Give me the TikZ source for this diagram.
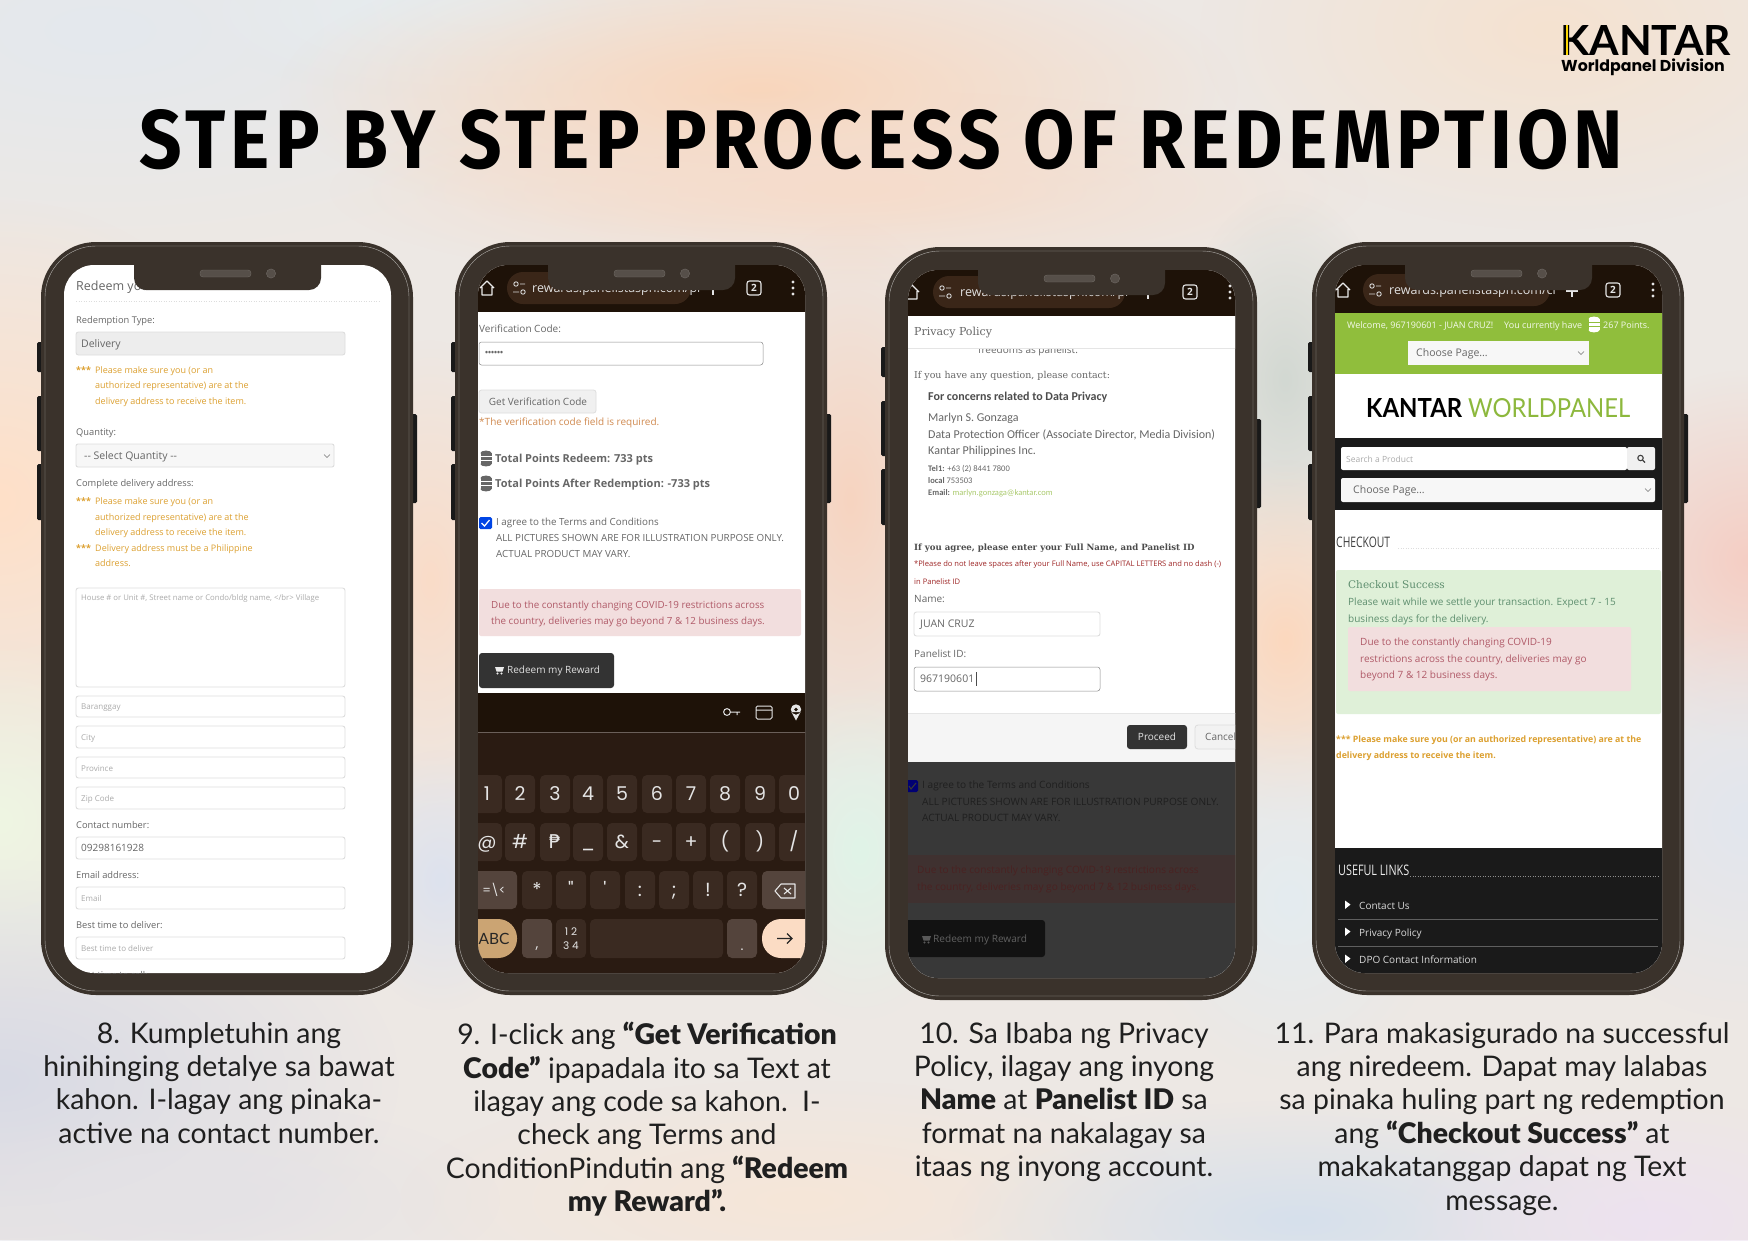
\documentclass[tikz,border=0pt]{standalone}
\usepackage{fontspec}
\usepackage{graphicx}
\usetikzlibrary{fadings}
\setmainfont{Open Sans}
\newfontfamily\slab{DejaVu Serif}
\newfontfamily\carl{Carlito}
\newfontfamily\capf{Lato}[BoldFont={Lato Black}]
\newfontfamily\lgo{Lato}
\newfontfamily\pop{Poppins}
\newfontfamily\ttl{Fira Sans}[LetterSpace=7]
\newfontfamily\djv{DejaVu Sans}
\definecolor{body}{HTML}{3A322B}
\definecolor{bar}{HTML}{1E1208}
\definecolor{pill}{HTML}{3A2618}
\definecolor{kbd}{HTML}{2A1B12}
\definecolor{keyc}{HTML}{3A2A21}
\definecolor{keyd}{HTML}{54443C}
\definecolor{lab}{HTML}{666666}
\definecolor{ora}{HTML}{DCA030}
\definecolor{pink}{HTML}{F2DEDE}
\definecolor{pinkt}{HTML}{B05A68}
\definecolor{edge}{HTML}{DDDDDD}
\definecolor{ph}{HTML}{AAAAAA}
\definecolor{uigreen}{HTML}{90BE3C}
\definecolor{kw}{HTML}{8DB83D}
\definecolor{okbg}{HTML}{DFF0D8}
\definecolor{okt}{HTML}{5F8F6F}
\definecolor{foot}{HTML}{1A1A1A}
\definecolor{basebg}{HTML}{EDE8E4}
\definecolor{reqt}{HTML}{D08A50}
\definecolor{abc}{HTML}{CBA473}
\definecolor{enter}{HTML}{FBDCC4}
\definecolor{darkpink}{HTML}{3F3130}
\definecolor{darkpinkt}{HTML}{4A2222}
\tikzfading[name=blobf, inner color=transparent!0, outer color=transparent!100]
\tikzset{
  field/.style={draw=edge,line width=0.9pt,fill=white,rounded corners=2.5pt},
  capt/.style={anchor=north,inner sep=0pt,align=center,text=black!88,font=\capf\fontsize{28.4}{33.4}\selectfont},
  dotl/.style={line width=0.5pt,dotted},
}
\newcommand\T[6][]{\node[anchor=base west,inner sep=0pt,text=#5,font=#1\fontsize{#4}{#4}\selectfont,yshift={-0.36*#4pt}] at ({#2},{#3}) {#6};}
\newcommand\TC[6][]{\node[anchor=base,inner sep=0pt,text=#5,font=#1\fontsize{#4}{#4}\selectfont,yshift={-0.36*#4pt}] at ({#2},{#3}) {#6};}
\newcommand\blob[5]{\definecolor{tmpb}{HTML}{#5}\fill[tmpb,path fading=blobf] (#1,#2) ellipse [x radius=#3pt,y radius=#4pt];}
\newcommand\phoneback[2]{\begin{scope}[shift={(#1,#2)}]
  \fill[black!90,rounded corners=1.5pt] (37,342) rectangle (44,372);
  \fill[black!90,rounded corners=1.5pt] (37,396) rectangle (44,451);
  \fill[black!90,rounded corners=1.5pt] (37,464) rectangle (44,520);
  \fill[black!90,rounded corners=1.5pt] (410,414) rectangle (417,503);
  \fill[body,rounded corners=55pt] (41,242) rectangle (413,995);
  \draw[white!60!body,line width=0.4pt,rounded corners=51pt] (45,246) rectangle (409,991);
  \fill[white,rounded corners=30pt] (64,265) rectangle (391,973);
\end{scope}}
\newcommand\phonefront[2]{\begin{scope}[shift={(#1,#2)}]
  \fill[body] (134,262) -- (134,278) arc[start angle=180,end angle=90,radius=12] -- (309,290) arc[start angle=90,end angle=0,radius=12] -- (321,262) -- cycle;
  \fill[white!14!body,draw=white!28!body,line width=0.4pt,rounded corners=3pt] (200,270) rectangle (251,277);
  \fill[white!14!body,draw=white!28!body,line width=0.4pt] (271,273.5) circle (4.6);
\end{scope}}
\newcommand\screenclip[2]{\clip[shift={(#1,#2)},rounded corners=30pt] (64,265) rectangle (391,973);}
% browser bar: home, pillL, pillR, urlx, plus, tab, dots, yc, url
\newcommand\browserbar[9]{
  \fill[bar] ({#1-40},{#8-30}) rectangle ({#7+40},{#8+24});
  \fill[pill,rounded corners=16pt] (#2,{#8-16}) rectangle (#3,{#8+16});
  \draw[white!92!black,line width=1.3pt,line join=round] ({#1-7},#8) -- (#1,{#8-7}) -- ({#1+7},#8) ({#1-5},{#8-1}) -- ({#1-5},{#8+7}) -- ({#1+5},{#8+7}) -- ({#1+5},{#8-1});
  \draw[white!85!black,line width=0.9pt] ({#2+9},{#8-4}) circle (2.2) ({#2+13},{#8-4}) -- ({#2+18},{#8-4}) ({#2+6},{#8+4}) -- ({#2+12},{#8+4}) ({#2+16},{#8+4}) circle (2.2);
  \T{#4}{#8}{12.5}{white!88!black}{#9}
  \draw[white!90!black,line width=1.1pt] (#5,{#8-5}) -- (#5,{#8+7}) ({#5-6},{#8+1}) -- ({#5+6},{#8+1});
  \draw[white!90!black,line width=1.1pt,rounded corners=2.5pt] ({#6-7},{#8-7}) rectangle ({#6+7},{#8+7});
  \TC[\bfseries]{#6}{#8}{10}{white!90!black}{2}
  \fill[white!90!black] (#7,{#8-6}) circle (1.6) (#7,#8) circle (1.6) (#7,{#8+6}) circle (1.6);
}
\newcommand\coin[4]{\fill[#3] ({#1-5.5},{#2-6}) rectangle ({#1+5.5},{#2+5});
  \fill[#3] (#1,{#2-6}) ellipse[x radius=5.5pt,y radius=2.4pt] (#1,{#2+5}) ellipse[x radius=5.5pt,y radius=2.4pt];
  \draw[#4,line width=0.5pt] ({#1-5.5},{#2-3}) -- ({#1+5.5},{#2-3}) ({#1-5.5},{#2+1}) -- ({#1+5.5},{#2+1});}
\newcommand\chev[2]{\draw[black!55,line width=0.6pt] ({#1-3},{#2-1.5}) -- (#1,{#2+1.5}) -- ({#1+3},{#2-1.5});}
\newcommand\cart[3]{\fill[#3] ({#1-4},{#2-3}) -- ({#1+5},{#2-3}) -- ({#1+3.5},{#2+1.5}) -- ({#1-2.5},{#2+1.5}) -- cycle ({#1-1.5},{#2+3.5}) circle (1.1) ({#1+2.5},{#2+3.5}) circle (1.1);}
\newcommand\Kk[5]{\fill[#4,rounded corners=5pt] ({#1-15},#2) rectangle ({#1+15},#3);
  \TC[\pop]{#1}{(#2+#3)/2}{19}{white!90!black}{#5}}
\newcommand\warnA[2]{% 3-line warning at x,y
  \T{#1}{#2}{9}{ora}{\bfseries ***}
  \T{#1+19}{#2}{9}{ora}{Please make sure you (or an}
  \T{#1+19}{#2+15.5}{9}{ora}{authorized representative) are at the}
  \T{#1+19}{#2+31}{9}{ora}{delivery address to receive the item.}}
\begin{document}
\begin{tikzpicture}[x=1pt,y=-1pt]
\useasboundingbox (0,0) rectangle (1748,1240);
% ---- background
\begin{scope}
\clip (0,0) rectangle (1748,1240);
\fill[basebg] (0,0) rectangle (1748,1240);
\blob{100}{30}{500}{220}{E4E8EE}
\blob{480}{10}{300}{90}{E6EEF2}
\blob{1000}{20}{300}{100}{EEE8E6}
\blob{760}{90}{480}{150}{F9D6BC}
\blob{850}{190}{520}{100}{F6DCCB}
\blob{1550}{30}{350}{200}{F5E2D0}
\blob{0}{500}{280}{300}{FFE0C8}
\blob{0}{820}{170}{180}{EFF6E2}
\blob{0}{1080}{400}{220}{D8DAE4}
\blob{430}{580}{120}{240}{FADCC8}
\blob{440}{880}{90}{130}{DDE2EE}
\blob{850}{500}{130}{280}{F7D4C0}
\blob{860}{850}{110}{170}{E0F4E8}
\blob{1285}{380}{110}{190}{D2D8D2}
\blob{1285}{640}{130}{180}{FCD8BE}
\blob{1290}{900}{150}{180}{E4ECF0}
\blob{1748}{560}{190}{190}{F5CEC4}
\blob{1748}{820}{200}{200}{E2E6EE}
\blob{800}{1200}{400}{120}{F6E6D8}
\blob{1300}{1220}{350}{120}{D6E0EC}
\blob{1650}{1220}{250}{120}{EDE2F0}
\blob{200}{1200}{300}{100}{E4E2E6}
\end{scope}
% ---- logo and title
\node[anchor=north west,inner sep=0pt] (logo) at (1560,25) {\resizebox{171pt}{30pt}{\lgo\bfseries KANTAR}};
\fill[yellow!75!orange] (1566.2,25) rectangle (1567.6,55);
\TC[\pop\bfseries]{1643}{66}{15.8}{black}{Worldpanel Division}
\node[anchor=north west,inner sep=0pt] (title) at (139,109) {\resizebox{1484pt}{59pt}{\ttl\bfseries STEP BY STEP PROCESS OF REDEMPTION}};
% ==== phone 1
\phoneback{0}{0}
\begin{scope}
\screenclip{0}{0}
\T{76}{286}{12.5}{lab}{Redeem your}
\draw[dotl,edge] (76,301) -- (380,301);
\T{76}{320}{9.3}{lab}{Redemption Type:}
\filldraw[draw=edge,line width=0.9pt,fill=black!7,rounded corners=2.5pt] (76,332) rectangle (345,355);
\T{81}{343.5}{10.5}{lab}{Delivery}
\warnA{76}{370}
\T{76}{432}{9.3}{lab}{Quantity:}
\filldraw[draw=edge,line width=0.9pt,fill=black!3,rounded corners=2pt] (76,444) rectangle (334,467);
\T{84}{456}{10.5}{lab}{{-}{-} Select Quantity {-}{-}}
\chev{327}{456}
\T{76}{483}{9.3}{lab}{Complete delivery address:}
\warnA{76}{501.5}
\T{76}{548}{9}{ora}{\bfseries ***}
\T{95}{548}{9}{ora}{Delivery address must be a Philippine}
\T{95}{563.5}{9}{ora}{address.}
\draw[field] (76,588) rectangle (345,687);
\T{81}{598}{7.75}{ph}{House \# or Unit \#, Street name or Condo/bldg name, </br> Village}
\draw[field] (76,696) rectangle (345,717); \T{81}{707}{8}{ph}{Baranggay}
\draw[field] (76,726) rectangle (345,748); \T{81}{738}{8}{ph}{City}
\draw[field] (76,757) rectangle (345,778); \T{81}{768.5}{8}{ph}{Province}
\draw[field] (76,787) rectangle (345,809); \T{81}{799}{8}{ph}{Zip Code}
\T{76}{825}{9.3}{lab}{Contact number:}
\draw[field] (76,837) rectangle (345,859); \T{81}{848}{10}{lab}{09298161928}
\T{76}{875}{9.3}{lab}{Email address:}
\draw[field] (76,887) rectangle (345,909); \T{81}{899}{8}{ph}{Email}
\T{76}{925}{9.3}{lab}{Best time to deliver:}
\draw[field] (76,937) rectangle (345,959); \T{81}{949}{8}{ph}{Best time to deliver}
\T{76}{975}{9.3}{lab}{Best time to call:}
\end{scope}
\phonefront{0}{0}
% ==== phone 2
\phoneback{414}{0}
\begin{scope}
\screenclip{414}{0}
\browserbar{487}{507}{691}{532}{713}{754}{793}{288}{rewards.panelistaspn.com/pr}
\T{479}{329}{10}{lab}{Verification Code:}
\draw[black!45,line width=0.5pt,fill=white,rounded corners=2.5pt] (479,342) rectangle (763,365);
\T[\bfseries]{485}{353}{8}{lab}{••••••}
\filldraw[draw=edge,line width=0.8pt,fill=black!6,rounded corners=2.5pt] (479,390) rectangle (596,413);
\TC{538}{402}{10}{lab}{Get Verification Code}
\T{479}{422}{10}{reqt}{*The verification code field is required.}
\coin{486}{459}{black!60}{white}
\T[\bfseries]{495}{459}{11}{lab}{Total Points Redeem: 733 pts}
\coin{486}{484}{black!60}{white}
\T[\bfseries]{495}{484}{11}{lab}{Total Points After Redemption: -733 pts}
\fill[blue!70!cyan!90!black,rounded corners=1.5pt] (479,517) rectangle (492,529);
\draw[white,line width=1.2pt] (481.5,523) -- (484.5,526) -- (489.5,520);
\T{496}{522}{9.8}{lab}{I agree to the Terms and Conditions}
\T{496}{538}{9.8}{lab}{ALL PICTURES SHOWN ARE FOR ILLUSTRATION PURPOSE ONLY.}
\T{496}{554}{9.8}{lab}{ACTUAL PRODUCT MAY VARY.}
\fill[pink,rounded corners=2pt] (479,589) rectangle (801,636);
\T{491}{604.5}{9.8}{pinkt}{Due to the constantly changing COVID-19 restrictions across}
\T{491}{621}{9.8}{pinkt}{the country, deliveries may go beyond 7 \& 12 business days.}
\fill[black!80,rounded corners=3pt] (479,653) rectangle (614,688);
\cart{499}{670}{white!92!black}
\T{507}{670}{10}{white!88!black}{Redeem my Reward}
\fill[kbd] (470,693) rectangle (815,980);
\fill[bar] (470,693) rectangle (815,732);
\draw[white!30!kbd,line width=0.6pt] (470,732) -- (815,732);
% toolbar icons
\draw[white!90!black,line width=1pt] (727,712) circle (3.4) (730.4,712) -- (740,712) (737,712) -- (737,715);
\draw[white!90!black,line width=1pt,rounded corners=1.5pt] (756,706) rectangle (772,719) (756,710) -- (772,710);
\fill[white!90!black] (796,709.5) circle (5.2) (791.4,712) -- (796,720.5) -- (800.6,712) -- cycle;
\fill[bar] (796,709.5) circle (1.8);
% keyboard
\Kk{487}{775}{813}{keyc}{1}\Kk{520}{775}{813}{keyc}{2}\Kk{555}{775}{813}{keyc}{3}\Kk{588}{775}{813}{keyc}{4}\Kk{622}{775}{813}{keyc}{5}
\Kk{657}{775}{813}{keyc}{6}\Kk{691}{775}{813}{keyc}{7}\Kk{725}{775}{813}{keyc}{8}\Kk{760}{775}{813}{keyc}{9}\Kk{794}{775}{813}{keyc}{0}
\Kk{487}{823}{861}{keyc}{@}\Kk{520}{823}{861}{keyc}{\#}\Kk{555}{823}{861}{keyc}{\djv ₱}\Kk{588}{823}{861}{keyc}{\_}\Kk{622}{823}{861}{keyc}{\&}
\Kk{657}{823}{861}{keyc}{-}\Kk{691}{823}{861}{keyc}{+}\Kk{725}{823}{861}{keyc}{(}\Kk{760}{823}{861}{keyc}{)}\Kk{794}{823}{861}{keyc}{/}
\fill[keyd,rounded corners=5pt] (470,871) rectangle (517,909);
\TC[\pop]{494}{890}{12}{white!90!black}{=\textbackslash <}
\Kk{537}{871}{909}{keyc}{*}\Kk{571}{871}{909}{keyc}{"}\Kk{605}{871}{909}{keyc}{'}\Kk{640}{871}{909}{keyc}{:}\Kk{674}{871}{909}{keyc}{;}\Kk{708}{871}{909}{keyc}{!}\Kk{742}{871}{909}{keyc}{?}
\fill[keyd,rounded corners=5pt] (762,871) rectangle (815,909);
\draw[white!90!black,line width=1.1pt,line join=round] (775,891) -- (781,884) -- (795,884) -- (795,898) -- (781,898) -- cycle (784,888) -- (791,894) (791,888) -- (784,894);
\fill[abc,rounded corners=19pt] (460,919) rectangle (517,958);
\TC[\lgo]{494}{938.5}{15.5}{black!85}{ABC}
\fill[keyd,rounded corners=5pt] (522,919) rectangle (552,958);
\TC[\pop]{537}{943}{14}{white!90!black}{,}
\fill[keyc,rounded corners=5pt] (556,919) rectangle (586,958);
\node[inner sep=0pt,align=center,text=white!90!black,font=\pop\fontsize{10.5}{14}\selectfont] (nums) at (571,938.5) {1 2\\3 4};
\fill[keyc,rounded corners=5pt] (590,919) rectangle (723,958);
\fill[keyd,rounded corners=5pt] (727,919) rectangle (757,958);
\TC[\pop]{742}{945}{14}{white!90!black}{.}
\fill[enter,rounded corners=19pt] (762,919) rectangle (830,958);
\draw[black!85,line width=1.1pt] (777,938.5) -- (792,938.5) (787,933.5) -- (792,938.5) -- (787,943.5);
\end{scope}
\phonefront{414}{0}
% ==== phone 3
\phoneback{844}{5}
\begin{scope}
\screenclip{844}{5}
\browserbar{912}{933}{1125}{960}{1148}{1190}{1230}{292}{rewards.panelistaspn.com/pr}
\T{978}{350}{10}{lab}{freedoms as panelist.}
\fill[white] (900,316) rectangle (1245,348);
\draw[black!10,line width=0.5pt] (900,348) -- (1245,348);
\T[\slab]{914}{332}{11}{lab}{Privacy Policy}
\T[\slab]{914}{375}{9.45}{lab}{If you have any question, please contact:}
\T[\carl\bfseries]{928}{396}{12}{black!70}{For concerns related to Data Privacy}
\T[\carl]{928}{417}{12}{lab}{Marlyn S. Gonzaga}
\T[\carl]{928}{434}{12}{lab}{Data Protection Officer (Associate Director, Media Division)}
\T[\carl]{928}{450}{12}{lab}{Kantar Philippines Inc.}
\T[\carl]{928}{468}{8.5}{lab}{\textbf{Tel1:} +63 (2) 8441 7800}
\T[\carl]{928}{480}{8.5}{lab}{\textbf{local} 753503}
\T[\carl]{928}{492}{8.5}{lab}{\textbf{Email:} \textcolor{kw!75!white}{marlyn.gonzaga@kantar.com}}
\T[\slab\bfseries]{914}{547}{8.6}{black!70}{If you agree, please enter your Full Name, and Panelist ID}
\T{914}{564}{7.6}{red!55!black!85!white}{*Please do not leave spaces after your Full Name, use CAPITAL LETTERS and no dash (-)}
\T{914}{582}{7.6}{red!55!black!85!white}{in Panelist ID}
\T{914}{599}{10}{lab}{Name:}
\draw[field] (914,612) rectangle (1100,636);
\T{920}{624}{10.5}{lab}{JUAN CRUZ}
\T{914}{654}{10}{lab}{Panelist ID:}
\draw[black!45,line width=0.5pt,fill=white,rounded corners=2.5pt] (914,667) rectangle (1100,691);
\T{920}{679}{10.5}{lab}{967190601}
\draw[black!70,line width=0.7pt] (976.5,672) -- (976.5,686);
\fill[black!4] (900,713) rectangle (1245,762);
\draw[black!10,line width=0.5pt] (900,713) -- (1245,713);
\fill[black!80,rounded corners=3pt] (1127,725) rectangle (1187,749);
\TC{1157}{737}{10}{white!90!black}{Proceed}
\filldraw[draw=edge,line width=0.8pt,fill=black!5,rounded corners=3pt] (1195,725) rectangle (1260,749);
\T{1205}{737}{10}{lab}{Cancel}
\fill[black!78] (900,762) rectangle (1245,985);
\fill[blue!45!black,rounded corners=1.5pt] (905,780) rectangle (918,792);
\draw[black!78,line width=1.1pt] (909,786) -- (911,789) -- (916,783);
\T{922}{785}{10.1}{black!88}{I agree to the Terms and Conditions}
\T{922}{802}{10.1}{black!88}{ALL PICTURES SHOWN ARE FOR ILLUSTRATION PURPOSE ONLY.}
\T{922}{818}{10.1}{black!88}{ACTUAL PRODUCT MAY VARY.}
\fill[darkpink] (900,855) rectangle (1245,903);
\T{917}{870}{10.1}{darkpinkt}{Due to the constantly changing COVID-19 restrictions across}
\T{917}{887}{10.1}{darkpinkt}{the country, deliveries may go beyond 7 \& 12 business days.}
\fill[black!93,rounded corners=3pt] (890,920) rectangle (1045,957);
\cart{926}{939}{black!65}
\T{933}{939}{10.1}{black!62}{Redeem my Reward}
\end{scope}
\phonefront{844}{5}
% ==== phone 4
\phoneback{1271}{0}
\begin{scope}
\screenclip{1271}{0}
\browserbar{1343}{1363}{1550}{1389}{1572}{1613}{1653}{290}{rewards.panelistaspn.com/cr}
\fill[uigreen] (1330,313) rectangle (1670,374);
\T{1347}{325}{9}{white!90!uigreen}{Welcome, 967190601 - JUAN CRUZ!}
\T{1504}{325}{9}{white!90!uigreen}{You currently have}
\coin{1594}{325}{white}{uigreen}
\T{1603}{325}{9}{white!90!uigreen}{267 Points.}
\fill[black!3] (1408,341) rectangle (1589,365);
\T{1416}{353}{10.5}{lab}{Choose Page...}
\chev{1581}{353}
\node[anchor=north west,inner sep=0pt] (kan) at (1366,398) {\resizebox{96pt}{19pt}{\lgo\bfseries KANTAR}};
\node[anchor=north west,inner sep=0pt,text=kw] (wp) at (1468,398) {\resizebox{162pt}{19pt}{\lgo WORLDPANEL}};
\fill[foot] (1330,438) rectangle (1670,510);
\fill[white,rounded corners=2pt] (1341,447) rectangle (1627,470);
\T{1346}{459}{8.5}{ph}{Search a Product}
\fill[black!6,rounded corners=2pt] (1627,447) rectangle (1655,470);
\draw[black!75,line width=1.1pt] (1640.5,458) circle (2.7) (1642.5,460) -- (1645,462.5);
\fill[black!3,rounded corners=2pt] (1341,478) rectangle (1655,502);
\T{1353}{490}{10.5}{lab}{Choose Page...}
\chev{1648}{490}
\T{1336}{543}{12.5}{black!75}{\resizebox{54pt}{10.5pt}{CHECKOUT}}
\draw[dotl,edge] (1398,548) -- (1660,548);
\fill[okbg,rounded corners=2pt] (1336,570) rectangle (1661,714);
\T[\slab]{1348}{585}{10.5}{okt}{Checkout Success}
\T{1348}{602}{10}{okt}{Please wait while we settle your transaction. Expect 7 - 15}
\T{1348}{619}{10}{okt}{business days for the delivery.}
\fill[pink,rounded corners=2pt] (1348,627) rectangle (1631,691);
\T{1360}{642}{10}{pinkt}{Due to the constantly changing COVID-19}
\T{1360}{659}{10}{pinkt}{restrictions across the country, deliveries may go}
\T{1360}{675}{10}{pinkt}{beyond 7 \& 12 business days.}
\T[\bfseries]{1336}{739}{8.8}{ora}{*** Please make sure you (or an authorized representative) are at the}
\T[\bfseries]{1336}{755}{8.8}{ora}{delivery address to receive the item.}
\fill[foot] (1330,848) rectangle (1670,980);
\T{1338}{871}{12.5}{white!92!black}{\resizebox{71pt}{10.5pt}{USEFUL LINKS}}
\draw[dotl,white!50!foot] (1410,876) -- (1658,876);
\fill[white] (1345,900.5) -- (1350.5,904.5) -- (1345,909) -- cycle;
\T{1359}{906}{10}{white!85!black}{Contact Us}
\draw[white!30!foot,line width=0.5pt] (1338,919) -- (1658,919);
\fill[white] (1345,927.5) -- (1350.5,931.5) -- (1345,936) -- cycle;
\T{1359}{933}{10}{white!85!black}{Privacy Policy}
\draw[white!30!foot,line width=0.5pt] (1338,946) -- (1658,946);
\fill[white] (1345,954.5) -- (1350.5,958.5) -- (1345,963) -- cycle;
\T{1359}{960}{10}{white!85!black}{DPO Contact Information}
\end{scope}
\phonefront{1271}{0}
% ==== captions
\node[capt] (c8) at (219,1022) {8. Kumpletuhin ang\\hinihinging detalye sa bawat\\kahon. I-lagay ang pinaka-\\active na contact number.};
\node[capt] (c9) at (647,1022) {9. I-click ang \textbf{“Get Verification}\\\textbf{Code”} ipapadala ito sa Text at\\ilagay ang code sa kahon.\ \ I-\\check ang Terms and\\ConditionPindutin ang \textbf{“Redeem}\\\textbf{my Reward”.}};
\node[capt] (c10) at (1064,1022) {10. Sa Ibaba ng Privacy\\Policy, ilagay ang inyong\\\textbf{Name} at \textbf{Panelist ID} sa\\format na nakalagay sa\\itaas ng inyong account.};
\node[capt] (c11) at (1502,1022) {11. Para makasigurado na successful\\ang niredeem. Dapat may lalabas\\sa pinaka huling part ng redemption\\ang \textbf{“Checkout Success”} at\\makakatanggap dapat ng Text\\message.};
\end{tikzpicture}
\end{document}
